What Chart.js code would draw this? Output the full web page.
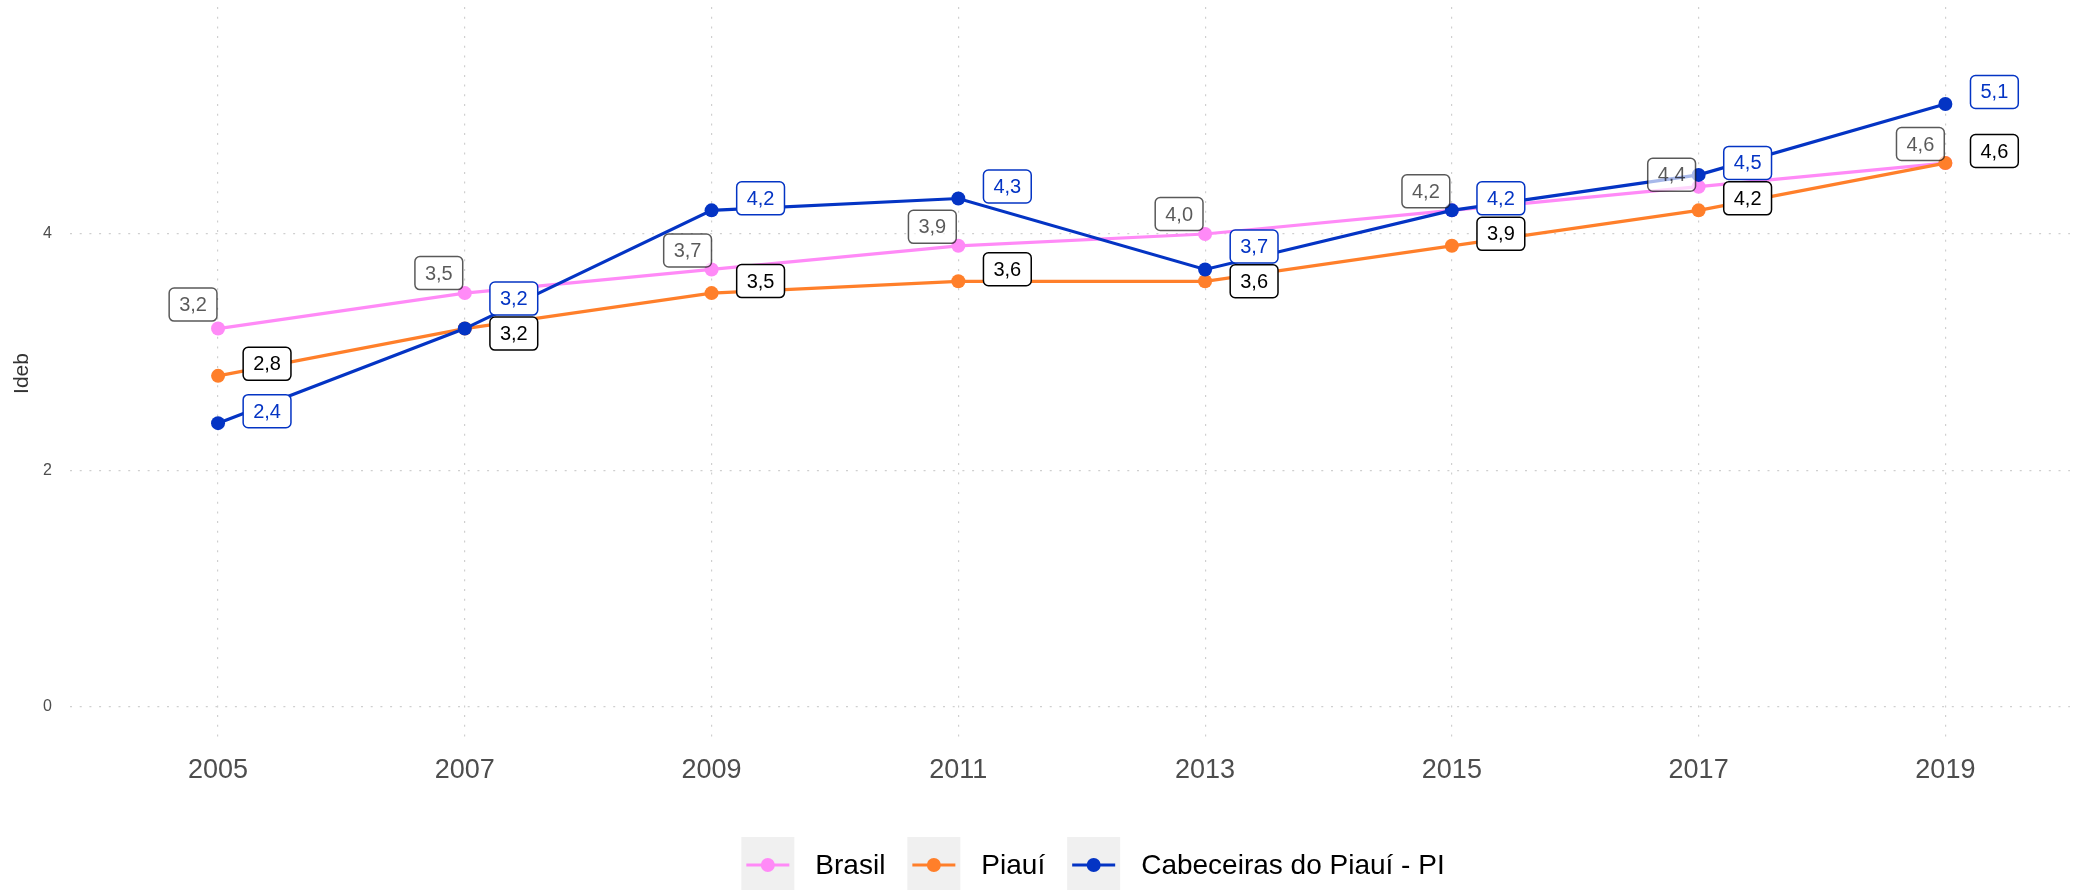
<!DOCTYPE html>
<html>
<head>
<meta charset="utf-8">
<script src="https://cdn.jsdelivr.net/npm/chart.js@4/dist/chart.umd.min.js"></script>
<style>
  html, body { margin: 0; padding: 0; background: #ffffff; }
  #wrap { width: 2077px; height: 890px; position: relative; }
</style>
</head>
<body>
<div id="wrap"><canvas id="ideb" width="2077" height="890"></canvas></div>
<script>
// Ideb por ano
const years = [2005, 2007, 2009, 2011, 2013, 2015, 2017, 2019];
const brasil = [3.2, 3.5, 3.7, 3.9, 4.0, 4.2, 4.4, 4.6];
const piaui = [2.8, 3.2, 3.5, 3.6, 3.6, 3.9, 4.2, 4.6];
const cabeceiras = [2.4, 3.2, 4.2, 4.3, 3.7, 4.2, 4.5, 5.1];
const seriesNames = ['Brasil', 'Piauí', 'Cabeceiras do Piauí - PI'];
const xTicks = [2005, 2007, 2009, 2011, 2013, 2015, 2017, 2019];
const yTicks = [0, 2, 4];

// estilo das séries
const colors = ['#ff8af7', '#ff7f2a', '#0434c4'];
const FONT = '"Liberation Sans", Arial, Helvetica, sans-serif';

// deslocamento (px) dos rótulos em relação ao ponto
const nudges = [
  [[-25, -24], [-26, -20], [-24, -19], [-26, -19], [-26, -20], [-26, -19], [-27, -12], [-25, -19]],
  [[49, -12], [49, 5], [49, -12], [49, -12], [49, 0], [49, -12], [49, -12], [49, -12]],
  [[49, -12], [49, -30], [49, -12], [49, -12], [49, -23], [49, -12], [49, -12], [49, -12]]
];
const labelStyles = [
  { color: '#000000', alpha: 0.65 },
  { color: '#000000', alpha: 1 },
  { color: '#0434c4', alpha: 1 }
];

const toPoints = arr => years.map((y, i) => ({ x: y, y: arr[i] }));
const allSeries = [brasil, piaui, cabeceiras];

const datasets = allSeries.map((arr, i) => ({
  label: seriesNames[i],
  data: toPoints(arr),
  borderColor: colors[i],
  backgroundColor: colors[i],
  borderWidth: 3.2,
  pointRadius: 7,
  pointBorderWidth: 0,
  pointHoverRadius: 7,
  tension: 0,
  order: 3 - i
}));

const fmt = v => v.toFixed(1).replace('.', ',');

// rótulos com caixa arredondada
const valueLabels = {
  id: 'valueLabels',
  afterDatasetsDraw(chart) {
    const ctx = chart.ctx;
    ctx.save();
    ctx.font = '20px ' + FONT;
    ctx.textAlign = 'center';
    ctx.textBaseline = 'middle';
    chart.data.datasets.forEach((ds, di) => {
      const meta = chart.getDatasetMeta(di);
      const st = labelStyles[di];
      meta.data.forEach((pt, i) => {
        const [dx, dy] = nudges[di][i];
        const cx = pt.x + dx, cy = pt.y + dy;
        const txt = fmt(ds.data[i].y);
        const w = ctx.measureText(txt).width + 20, h = 33;
        ctx.globalAlpha = st.alpha;
        ctx.beginPath();
        ctx.roundRect(cx - w / 2, cy - h / 2, w, h, 5);
        ctx.fillStyle = '#ffffff';
        ctx.fill();
        ctx.lineWidth = 1.5;
        ctx.strokeStyle = st.color;
        ctx.stroke();
        ctx.fillStyle = st.color;
        ctx.fillText(txt, cx, cy + 1);
      });
    });
    ctx.restore();
  }
};

// legenda inferior com chaves em fundo cinza
const bottomLegend = {
  id: 'bottomLegend',
  afterDraw(chart) {
    const ctx = chart.ctx;
    ctx.save();
    ctx.font = '28px ' + FONT;
    ctx.textBaseline = 'middle';
    ctx.textAlign = 'left';
    const keyW = 53, keyTop = 837, keyH = 56, gapText = 21, gapNext = 22;
    const widths = seriesNames.map(n => ctx.measureText(n).width);
    const total = seriesNames.length * (keyW + gapText) + widths.reduce((a, b) => a + b, 0) + gapNext * (seriesNames.length - 1);
    let x = 1093 - total / 2;
    const cy = 865;
    seriesNames.forEach((name, i) => {
      ctx.fillStyle = '#f0f0f0';
      ctx.fillRect(x, keyTop, keyW, keyH);
      ctx.strokeStyle = colors[i];
      ctx.lineWidth = 3.2;
      ctx.beginPath();
      ctx.moveTo(x + 5, cy);
      ctx.lineTo(x + keyW - 5, cy);
      ctx.stroke();
      ctx.fillStyle = colors[i];
      ctx.beginPath();
      ctx.arc(x + keyW / 2, cy, 7, 0, Math.PI * 2);
      ctx.fill();
      ctx.fillStyle = '#000000';
      ctx.fillText(name, x + keyW + gapText, cy + 1);
      x += keyW + gapText + widths[i] + gapNext;
    });
    ctx.restore();
  }
};

const gridDash = [2, 7.7];

new Chart(document.getElementById('ideb'), {
  type: 'line',
  data: { datasets },
  plugins: [valueLabels, bottomLegend],
  options: {
    responsive: false,
    animation: false,
    devicePixelRatio: 1,
    layout: { padding: { left: 0, right: 2, top: 4, bottom: 90 } },
    plugins: {
      legend: { display: false },
      tooltip: { enabled: false },
      title: { display: false }
    },
    scales: {
      x: {
        type: 'linear',
        min: 2003.8,
        max: 2020.01,
        afterBuildTicks: s => { s.ticks = xTicks.map(v => ({ value: v })); },
        afterFit: s => { s.height = 60; s.paddingLeft = 0; s.paddingRight = 0; },
        grid: { color: '#cfcfcf', lineWidth: 1.2, drawTicks: false },
        border: { display: false, dash: gridDash },
        ticks: {
          padding: 14,
          color: '#4d4d4d',
          font: { family: FONT, size: 27 },
          callback: v => String(v),
          autoSkip: false,
          maxRotation: 0
        }
      },
      y: {
        type: 'linear',
        min: -0.28,
        max: 5.92,
        afterBuildTicks: s => { s.ticks = yTicks.map(v => ({ value: v })); },
        afterFit: s => { s.width = 70; s.paddingTop = 0; s.paddingBottom = 0; },
        grid: { color: '#cfcfcf', lineWidth: 1.2, drawTicks: false },
        border: { display: false, dash: gridDash },
        title: {
          display: true,
          text: 'Ideb',
          color: '#333333',
          font: { family: FONT, size: 21 },
          padding: { top: 10, bottom: 0 }
        },
        ticks: {
          padding: 18,
          color: '#4d4d4d',
          font: { family: FONT, size: 16 },
          callback: v => String(v)
        }
      }
    }
  }
});
</script>
</body>
</html>
